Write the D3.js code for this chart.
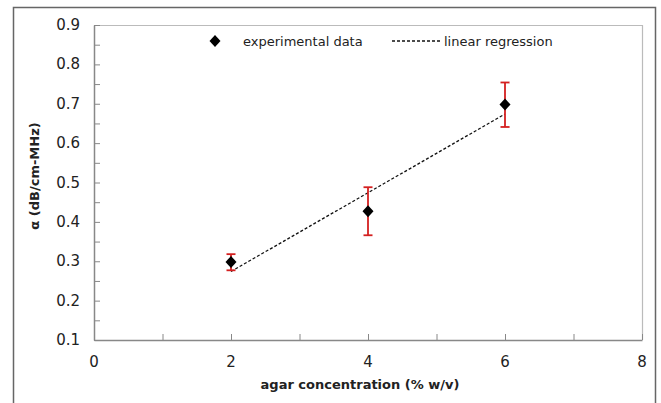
<!DOCTYPE html>
<html>
<head>
<meta charset="utf-8">
<script src="https://cdn.jsdelivr.net/npm/d3@7"></script>
<style>
  body { margin: 0; background: #fff; }
  text { font-family: "DejaVu Sans", sans-serif; fill: #222; }
</style>
</head>
<body>
<div class="graph"></div>
<script>
// agar concentration (% w/v) and attenuation coefficient
var concentrations = [2, 4, 6];
var alphaValues = [0.298, 0.427, 0.698];
var errLow = [0.277, 0.366, 0.641];
var errHigh = [0.318, 0.488, 0.754];
var fitX = [2, 6];
var fitY = [0.274, 0.674];
var xTicks = [0, 2, 4, 6, 8];
var yTicks = [0.1, 0.2, 0.3, 0.4, 0.5, 0.6, 0.7, 0.8, 0.9];

var width = 661, height = 403;
var plotL = 94, plotR = 642, plotT = 25, plotB = 340;

var x = d3.scaleLinear().domain([0, 8]).range([plotL, plotR]);
var y = d3.scaleLinear().domain([0.1, 0.9]).range([plotB, plotT]);

var svg = d3.select('.graph').append('svg')
    .attr('width', width)
    .attr('height', height);

// outer frame
svg.append('path')
    .attr('d', 'M13.5,' + height + 'V7.5H655.5V' + height)
    .attr('fill', 'none')
    .attr('stroke', '#666')
    .attr('stroke-width', 1.5);

// light plot-area border (top & right)
svg.append('path')
    .attr('d', 'M' + plotL + ',' + (plotT + 0.5) + 'H' + (plotR + 0.5) + 'V' + plotB)
    .attr('fill', 'none')
    .attr('stroke', '#bbb')
    .attr('stroke-width', 1.2);

// axes with inside ticks
var xAxis = d3.axisBottom(x).tickValues(d3.range(0, 9, 1)).tickSize(-6).tickSizeOuter(0).tickFormat('');
var yAxis = d3.axisLeft(y).tickValues(d3.range(0.1, 0.91, 0.05)).tickSize(-6).tickSizeOuter(0).tickFormat('');

var gx = svg.append('g').attr('transform', 'translate(0,' + plotB + ')').call(xAxis);
var gy = svg.append('g').attr('transform', 'translate(' + plotL + ',0)').call(yAxis);
[gx, gy].forEach(function(g) {
    g.select('.domain').attr('stroke', '#888').attr('stroke-width', 1.5);
    g.selectAll('.tick line').attr('stroke', '#888').attr('stroke-width', 1);
});

// tick labels
svg.append('g').selectAll('text')
    .data(xTicks)
    .enter()
    .append('text')
    .attr('x', function(d) { return x(d); })
    .attr('y', 367)
    .attr('text-anchor', 'middle')
    .attr('font-size', 15)
    .text(function(d) { return d; });

svg.append('g').selectAll('text')
    .data(yTicks)
    .enter()
    .append('text')
    .attr('x', 80)
    .attr('y', function(d) { return y(d) + 5; })
    .attr('text-anchor', 'end')
    .attr('font-size', 15)
    .text(function(d) { return d3.format('.1f')(d); });

// axis titles
svg.append('text')
    .attr('x', 360)
    .attr('y', 389)
    .attr('text-anchor', 'middle')
    .attr('font-size', 13)
    .attr('font-weight', 'bold')
    .text('agar concentration (% w/v)');

svg.append('text')
    .attr('transform', 'translate(39,176) rotate(-90)')
    .attr('text-anchor', 'middle')
    .attr('font-size', 13)
    .attr('font-weight', 'bold')
    .text('α (dB/cm-MHz)');

// regression line
var fit = fitX.map(function(d, i) { return [d, fitY[i]]; });
svg.append('path')
    .datum(fit)
    .attr('d', d3.line().x(function(d) { return x(d[0]); }).y(function(d) { return y(d[1]); }))
    .attr('fill', 'none')
    .attr('stroke', '#111')
    .attr('stroke-width', 1.3)
    .attr('stroke-dasharray', '3,2');

// error bars
var data = concentrations.map(function(c, i) {
    return { x: c, y: alphaValues[i], lo: errLow[i], hi: errHigh[i] };
});
var eb = svg.append('g').selectAll('g')
    .data(data)
    .enter()
    .append('g')
    .attr('stroke', '#d42020')
    .attr('stroke-width', 1.8);
eb.append('line')
    .attr('x1', function(d) { return x(d.x); })
    .attr('x2', function(d) { return x(d.x); })
    .attr('y1', function(d) { return y(d.lo); })
    .attr('y2', function(d) { return y(d.hi); });
eb.append('line')
    .attr('x1', function(d) { return x(d.x) - 4.5; })
    .attr('x2', function(d) { return x(d.x) + 4.5; })
    .attr('y1', function(d) { return y(d.lo); })
    .attr('y2', function(d) { return y(d.lo); });
eb.append('line')
    .attr('x1', function(d) { return x(d.x) - 4.5; })
    .attr('x2', function(d) { return x(d.x) + 4.5; })
    .attr('y1', function(d) { return y(d.hi); })
    .attr('y2', function(d) { return y(d.hi); });

// diamonds
var diamond = 'M0,-6L5.5,0L0,6L-5.5,0Z';
svg.append('g').selectAll('path')
    .data(data)
    .enter()
    .append('path')
    .attr('d', diamond)
    .attr('transform', function(d) { return 'translate(' + x(d.x) + ',' + y(d.y) + ')'; })
    .attr('fill', '#000');

// legend
svg.append('path').attr('d', diamond).attr('transform', 'translate(215,41)').attr('fill', '#000');
svg.append('text').attr('x', 243).attr('y', 46).attr('font-size', 13).text('experimental data');
svg.append('line')
    .attr('x1', 392).attr('x2', 441).attr('y1', 41).attr('y2', 41)
    .attr('stroke', '#111').attr('stroke-width', 1.3).attr('stroke-dasharray', '3,2');
svg.append('text').attr('x', 444).attr('y', 46).attr('font-size', 13).text('linear regression');
</script>
</body>
</html>
